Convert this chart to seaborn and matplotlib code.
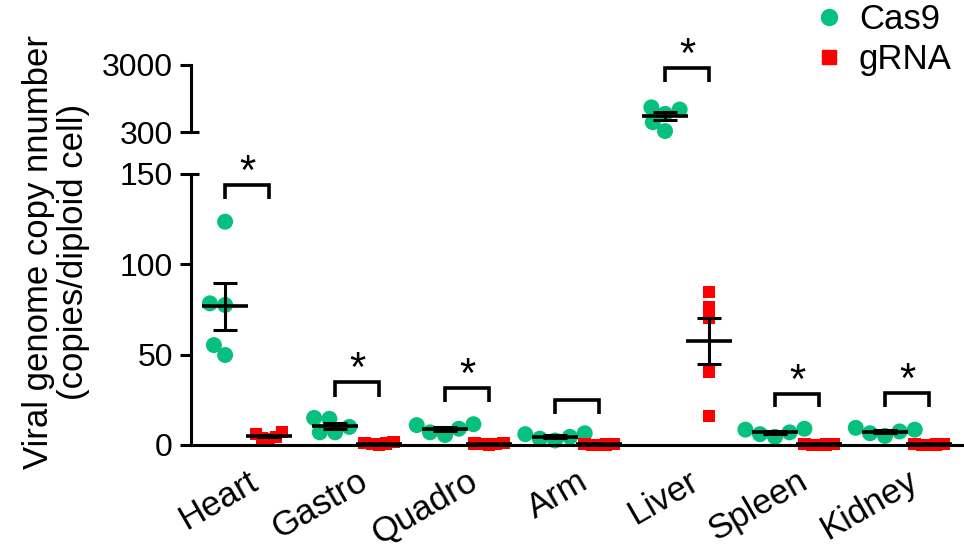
import numpy as np
import pandas as pd
import matplotlib
matplotlib.use("Agg")
import matplotlib.pyplot as plt
import seaborn as sns
from matplotlib.lines import Line2D

# ---------------- data ----------------
tissues = ["Heart", "Gastro", "Quadro", "Arm", "Liver", "Spleen", "Kidney"]
groups = ["Cas9", "gRNA"]

cas9_heart = [123.6, 78.4, 77.5, 55.3, 49.8]
cas9_gastro = [15.0, 14.5, 10.0, 7.0, 7.0]
cas9_quadro = [11.5, 11.0, 9.0, 7.0, 5.5]
cas9_arm = [6.5, 6.0, 4.5, 3.5, 2.5]
cas9_liver = [700, 650, 560, 420, 310]
cas9_spleen = [9.0, 8.5, 7.0, 6.0, 4.5]
cas9_kidney = [9.5, 8.5, 7.5, 6.5, 5.0]

grna_heart = [7.0, 6.0, 4.5, 4.0, 3.5]
grna_gastro = [1.5, 1.0, 0.8, 0.5, 0.3]
grna_quadro = [1.0, 0.8, 0.5, 0.4, 0.3]
grna_arm = [0.6, 0.5, 0.3, 0.2, 0.1]
grna_liver = [84.8, 76.2, 70.1, 40.6, 16.0]
grna_spleen = [0.5, 0.4, 0.3, 0.2, 0.1]
grna_kidney = [0.6, 0.4, 0.3, 0.2, 0.1]

sig_labels = ["*", "*", "*", "", "*", "*", "*"]
bracket_top = [144, 35, 31.5, 25, 2700, 28.2, 28.8]
bracket_leg = [136, 26.6, 23.8, 17.2, 1690, 21, 21]

cas9_values = [cas9_heart, cas9_gastro, cas9_quadro, cas9_arm,
               cas9_liver, cas9_spleen, cas9_kidney]
grna_values = [grna_heart, grna_gastro, grna_quadro, grna_arm,
               grna_liver, grna_spleen, grna_kidney]

rows = []
for t, cv, gv in zip(tissues, cas9_values, grna_values):
    rows += [(t, "Cas9", v) for v in cv]
    rows += [(t, "gRNA", v) for v in gv]
df = pd.DataFrame(rows, columns=["tissue", "group", "value"])

# ---------------- style ----------------
sns.set_style("white")
plt.rcParams["font.family"] = ["Liberation Sans", "DejaVu Sans"]
plt.rcParams["text.color"] = "black"
plt.rcParams["xtick.color"] = "black"
plt.rcParams["ytick.color"] = "black"
plt.rcParams["axes.edgecolor"] = "black"
GREEN = "#06C17D"
RED = "#FF0000"
palette = {"Cas9": GREEN, "gRNA": RED}
markers = {"Cas9": "o", "gRNA": "s"}
vis_size = {"Cas9": 11.5, "gRNA": 8.8}
swarm_size = {"Cas9": 10.5, "gRNA": 5.0}
LW = 2.2
FS = 23

W, H = 964, 550
fig = plt.figure(figsize=(W / 100, H / 100), dpi=100)
left, right = 191, 962
ax_lo = fig.add_axes([left / W, (H - 445) / H, (right - left) / W, (445 - 174) / H])
ax_hi = fig.add_axes([left / W, (H - 132) / H, (right - left) / W, (132 - 65) / H])
ax_hi.set_yscale("log")

dodge_off = {"Cas9": -0.2, "gRNA": 0.2}
swarm_cols = []


def swarm(ax, data):
    for g in groups:
        sub = data[data.group == g]
        if sub.empty:
            continue
        n0 = len(ax.collections)
        sns.swarmplot(data=sub, x="tissue", y="value", hue="group",
                      order=tissues, hue_order=groups, dodge=True,
                      palette=palette, marker=markers[g], size=swarm_size[g],
                      linewidth=0, legend=False, ax=ax, warn_thresh=1.0)
        for c in ax.collections[n0:]:
            c.set_clip_on(False)
            c.set_zorder(2)
            swarm_cols.append((c, g))


swarm(ax_lo, df[df.value <= 150])
swarm(ax_hi, df[df.value > 150])

# mean +/- SEM
for i, t in enumerate(tissues):
    for g in groups:
        vals = np.asarray(df[(df.tissue == t) & (df.group == g)].value)
        m = vals.mean()
        sem = vals.std(ddof=1) / np.sqrt(len(vals))
        ax = ax_hi if m > 150 else ax_lo
        x = i + dodge_off[g]
        ax.hlines(m, x - 0.21, x + 0.21, color="black", lw=LW + 0.4, zorder=3)
        ax.errorbar(x, m, yerr=sem, fmt="none", ecolor="black",
                    elinewidth=LW, capsize=8.3, capthick=LW, zorder=3)

# significance brackets
for i, (lab, top, leg) in enumerate(zip(sig_labels, bracket_top, bracket_leg)):
    ax = ax_hi if top > 150 else ax_lo
    xs = [i - 0.2, i - 0.2, i + 0.2, i + 0.2]
    ax.plot(xs, [leg, top, top, leg], color="black", lw=LW + 0.4,
            clip_on=False, solid_capstyle="butt", solid_joinstyle="miter")
    if lab:
        ax.annotate(lab, (i, top), xytext=(0, -6), textcoords="offset points",
                    ha="center", va="bottom", fontsize=30,
                    annotation_clip=False)

# axes styling
for ax in (ax_lo, ax_hi):
    ax.set_xlim(-0.51, 6.5)
    ax.set_xlabel("")
    ax.set_ylabel("")
    ax.spines["top"].set_visible(False)
    ax.spines["right"].set_visible(False)
    ax.spines["left"].set_linewidth(LW)
    ax.tick_params(axis="y", direction="out", length=8, width=LW,
                   labelsize=FS, pad=5, left=True)
    ax.patch.set_alpha(0)

ax_lo.spines["bottom"].set_linewidth(LW)
ax_lo.set_ylim(0, 150)
ax_lo.set_yticks([0, 50, 100, 150])
ax_lo.set_xticks(range(len(tissues)))
ax_lo.set_xticklabels(tissues, rotation=30, ha="right",
                      rotation_mode="anchor", fontsize=25)
ax_lo.tick_params(axis="x", length=0, pad=14)

ax_hi.spines["bottom"].set_visible(False)
ax_hi.set_ylim(300, 3000)
ax_hi.set_yticks([300, 3000])
ax_hi.set_yticklabels(["300", "3000"])
ax_hi.yaxis.set_minor_locator(matplotlib.ticker.NullLocator())
ax_hi.set_xticks([])

# small inward marks at the top of lower segment and bottom of upper segment
ax_lo.plot([0, 0.011], [150, 150], transform=ax_lo.get_yaxis_transform(),
           color="black", lw=LW, clip_on=False, solid_capstyle="butt")
ax_hi.plot([0, 0.011], [300, 300], transform=ax_hi.get_yaxis_transform(),
           color="black", lw=LW, clip_on=False, solid_capstyle="butt")

# y label
fig.text(56 / W, 1 - 252 / H, "Viral genome copy nnumber\n(copies/diploid cell)",
         rotation=90, ha="center", va="center", fontsize=25,
         multialignment="center", linespacing=1.05)

# legend
handles = [Line2D([], [], marker="o", ls="none", color=GREEN, markersize=vis_size["Cas9"]),
           Line2D([], [], marker="s", ls="none", color=RED, markersize=vis_size["gRNA"] + 1)]
fig.legend(handles, groups, loc="upper left", bbox_to_anchor=(812 / W, 1 - 3 / H),
           frameon=False, fontsize=25, handlelength=1.0, handletextpad=0.35,
           labelspacing=0.2, borderaxespad=0.0, borderpad=0.0)

# compute swarm layout with the compact spacing, then freeze it and
# enlarge the markers so neighbouring points overlap as in the original
fig.canvas.draw()
for c, g in swarm_cols:
    c.__dict__.pop("draw", None)
    c.set_sizes([vis_size[g] ** 2])

fig.savefig("out.png", dpi=100)
